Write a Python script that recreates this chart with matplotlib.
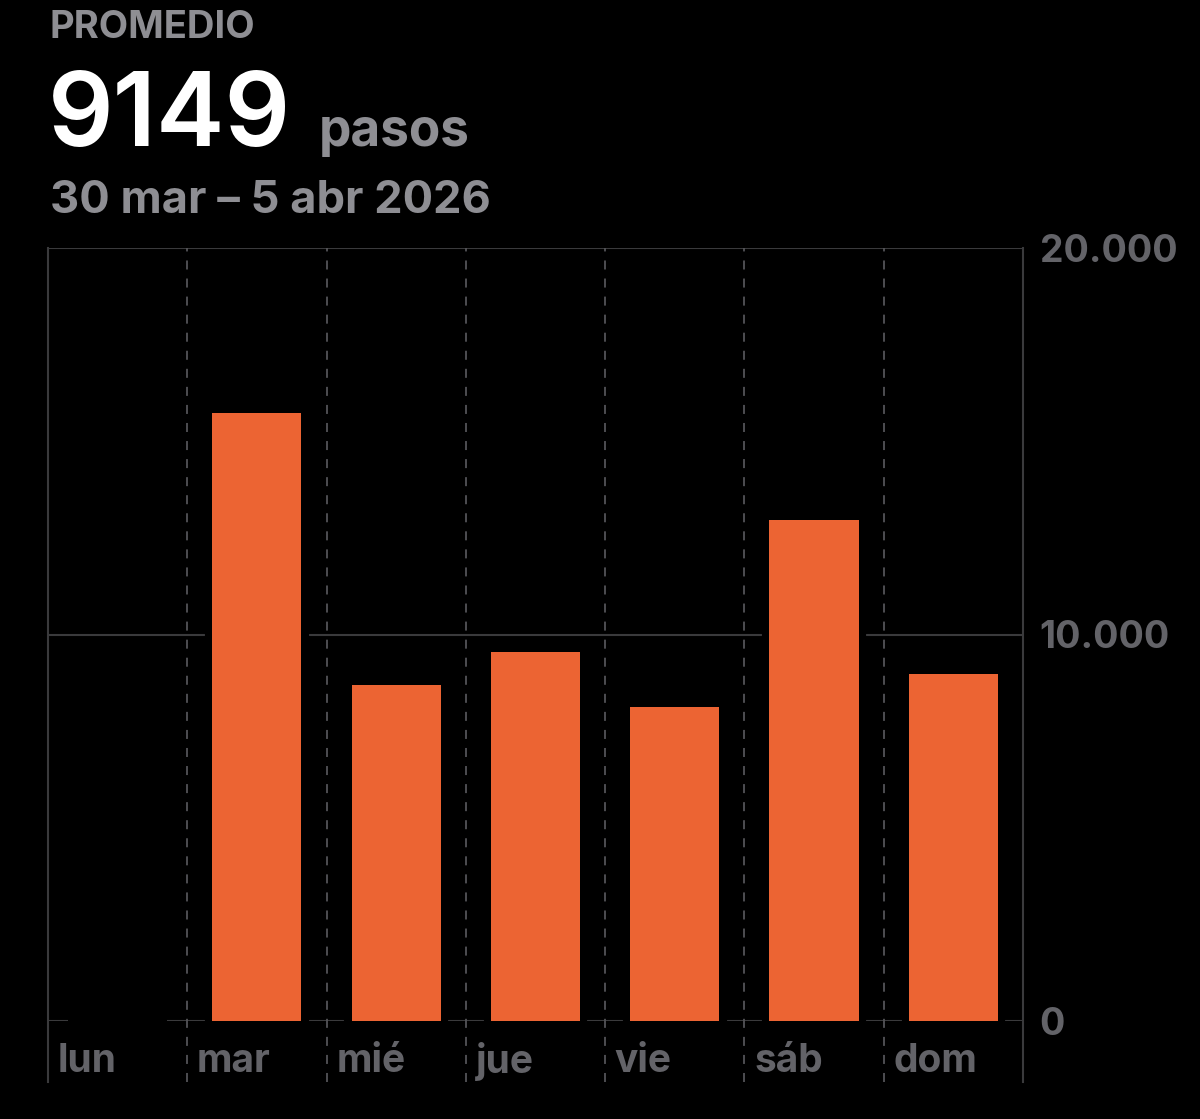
import matplotlib.pyplot as plt
import matplotlib.transforms as mtransforms

plt.rcParams['font.family'] = ['Inter', 'DejaVu Sans']

days = ['lun', 'mar', 'mié', 'jue', 'vie', 'sáb', 'dom']
steps = [0, 15730, 8700, 9550, 8120, 12960, 8983]
y_ticks = [0, 10000, 20000]
y_labels = ['0', '10.000', '20.000']

header = 'PROMEDIO'
average = '9149'
unit = 'pasos'
date_range = '30 mar – 5 abr 2026'

bar_color = '#ec6433'
grid_color = '#3a3a3c'
dash_color = '#545458'
head_gray = '#8e8e93'
tick_gray = '#636368'

W, H = 1200, 1119
fig = plt.figure(figsize=(W / 100, H / 100), dpi=100, facecolor='black')
ax = fig.add_axes([48 / W, (H - 1021) / H, (1023 - 48) / W, (1021 - 248) / H])
ax.set_facecolor('black')
ax.set_xlim(-0.5, len(days) - 0.5)
ax.set_ylim(0, 20000)

for s in ax.spines.values():
    s.set_visible(False)

ext = (1082 - 1021) / (1021 - 248)

# grid lines
for t in y_ticks:
    ax.axhline(t, color=grid_color, lw=1.5, zorder=1)
ax.axvline(-0.5, ymin=-ext, ymax=1, color=grid_color, lw=1.5, clip_on=False, zorder=1)
ax.axvline(len(days) - 0.5, ymin=-ext, ymax=1, color=grid_color, lw=1.5, clip_on=False, zorder=1)
for i in range(1, len(days)):
    ax.axvline(i - 0.5, ymin=-ext, ymax=1, color=dash_color, lw=1.3,
               ls=(0, (5, 5)), clip_on=False, zorder=1)

x = list(range(len(days)))
# black halo behind bars to break the grid lines
ax.bar(x, steps, width=0.715, color='black', edgecolor='black', lw=3, zorder=2)
ax.bar(x, steps, width=0.64, color=bar_color, lw=0, zorder=3)

ax.yaxis.tick_right()
ax.set_yticks(y_ticks)
ax.set_yticklabels(y_labels, fontsize=27, fontweight='bold', color=tick_gray)
ax.tick_params(axis='y', length=0, pad=12)
ax.set_xticks([])

trans = mtransforms.blended_transform_factory(ax.transData, ax.transAxes)
for i, d in enumerate(days):
    ax.text(i - 0.43, -0.052, d, transform=trans, fontsize=28, fontweight='bold',
            color=tick_gray, ha='left', va='center')

fig.text(50 / W, 1 - 38 / H, header, fontsize=27.5, fontweight='bold', color=head_gray,
         ha='left', va='baseline')
fig.text(48 / W, 1 - 146 / H, average, fontsize=74, fontweight='semibold', color='white',
         ha='left', va='baseline')
fig.text(319 / W, 1 - 146 / H, unit, fontsize=37, fontweight='bold', color=head_gray,
         ha='left', va='baseline')
fig.text(50 / W, 1 - 213 / H, date_range, fontsize=32.5, fontweight='bold', color=head_gray,
         ha='left', va='baseline')

fig.savefig('out.png', dpi=100, facecolor='black')
